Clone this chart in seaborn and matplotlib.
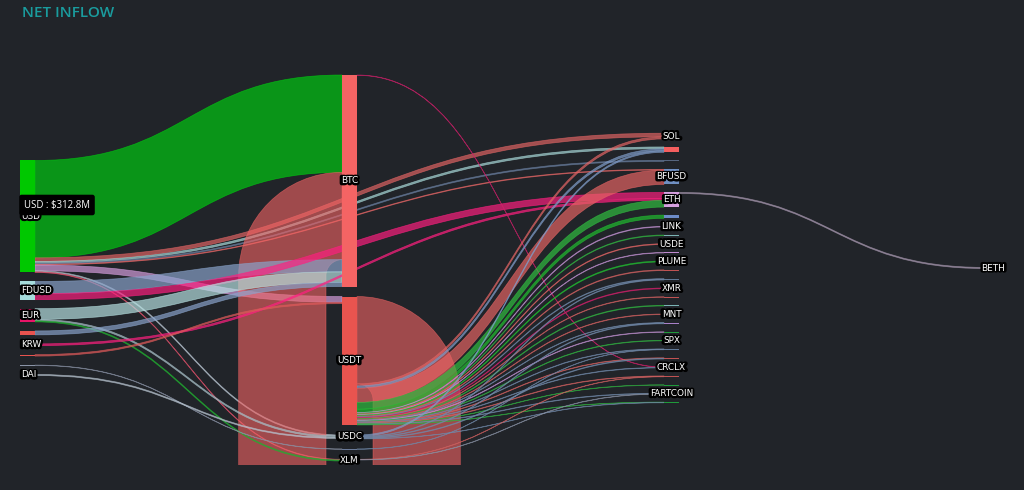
import numpy as np
import seaborn as sns
import matplotlib.pyplot as plt
from matplotlib.path import Path
from matplotlib.patches import PathPatch, Rectangle
import matplotlib.patheffects as pe

# ---- data ($M) ----
# names starting with "_" are nodes that carry no visible label
nodes = ["USD", "FDUSD", "EUR", "_f1", "KRW", "_f2", "_f3", "DAI",
         "BTC", "USDT", "USDC", "_m1", "XLM",
         "SOL", "_r1", "_r2", "BFUSD", "ETH", "_r3", "LINK", "_r4", "USDE", "_r5",
         "PLUME", "_r6", "_r7", "XMR", "_r8", "_r9", "MNT", "_r10", "_r11", "SPX",
         "_r12", "_r13", "CRCLX", "_r14", "_r15", "FARTCOIN", "_r16",
         "BETH"]
node_col = [0] * 8 + [1] * 5 + [2] * 27 + [3]
node_color = ["#00c800", "#a6dcdc", "#e81468", "#e8534f", "#c8145a", "#e8534f", "#8a93a6", "#8a93a6",
              "#f46464", "#e9544f", "#3daa48", "#6a7a99", "#8a93a6",
              "#3aa84a", "#f45f5f", "#56657e", "#6f8fc2", "#d6a0e0", "#6c8cc8", "#8a93a6",
              "#7ab4b4", "#8a93a6", "#c08ad0", "#3aa84a", "#c05252", "#5f7896", "#c2185b",
              "#c05252", "#7ab4b4", "#8a93a6", "#a880c8", "#1f9a3a", "#8a93a6", "#5f7896",
              "#c05252", "#8a93a6", "#c05252", "#1f9a3a", "#8a93a6", "#1f9a3a",
              "#8a93a6"]

src = ["USD", "USD", "USD", "USD", "USD", "USD", "USD", "USD",
       "USDT",
       "FDUSD", "FDUSD",
       "EUR", "EUR", "EUR",
       "_f1", "KRW", "_f2", "_f3", "DAI",
       "BTC",
       "USDT", "USDT", "USDT", "USDT", "USDT", "USDT", "USDT", "USDT", "USDT",
       "USDT", "USDT", "USDT", "USDT", "USDT", "USDT", "USDT", "USDT", "USDT",
       "USDT", "USDT", "USDT", "USDT", "USDT", "USDT", "USDT", "USDT",
       "USDC", "USDC", "USDC", "USDC", "USDC",
       "_m1", "XLM", "XLM",
       "ETH"]
tgt = ["BTC", "SOL", "_r1", "_r2", "BFUSD", "USDT", "USDC", "XLM",
       "BTC",
       "BTC", "ETH",
       "BTC", "USDC", "XLM",
       "BTC", "ETH", "USDT", "_m1", "USDC",
       "CRCLX",
       "SOL", "_r1", "BFUSD", "ETH", "_r3", "LINK", "_r4", "USDE", "_r5",
       "PLUME", "_r6", "_r7", "XMR", "_r8", "_r9", "MNT", "_r10", "_r11",
       "SPX", "_r12", "_r13", "CRCLX", "_r14", "_r15", "FARTCOIN", "_r16",
       "_r1", "_r7", "_r10", "_r13", "_r16",
       "_r12", "_r14", "FARTCOIN",
       "BETH"]
val = [272, 10, 5, 3, 2, 16, 3, 1.8,
       244,
       34, 17,
       30, 4, 3,
       11, 5, 4, 1, 3,
       1,
       6, 6, 40, 19, 9, 2, 2, 2, 1.5,
       2.5, 2, 2, 2, 1.5, 2, 1.5, 1.5, 1.5,
       1.5, 1.5, 1.5, 1.5, 1.5, 1, 1.5, 1,
       4, 2, 2, 2, 1,
       1, 1, 1,
       3]
link_color = ["#00cc10", "#e06464", "#a8d8d8", "#6a7fa0", "#e06464", "#d8a0e0", "#b8c4d0", "#e0506a",
              "#f46464",
              "#8aa4cc", "#ff1f80",
              "#b8e4e4", "#a8c0c8", "#20b030",
              "#8aa4cc", "#ff2080", "#e05a5a", "#8a93a6", "#b8c4d0",
              "#d0206a",
              "#e06464", "#7f9cc8", "#e86464", "#30c040", "#20c030", "#c090d0", "#30b040",
              "#e06464", "#c090d0",
              "#20c030", "#d06060", "#7088a8", "#d0206a", "#d06060", "#30b040", "#d06060",
              "#7088a8", "#c090d0",
              "#30b040", "#7088a8", "#d06060", "#7088a8", "#d06060", "#30b040", "#7088a8",
              "#30b040",
              "#7f9cc8", "#7088a8", "#7088a8", "#7088a8", "#7088a8",
              "#7088a8", "#d06060", "#8a93a6",
              "#a898b0"]

# ---- style ----
bg = "#212429"
sns.set_theme(style="dark", rc={"figure.facecolor": bg, "axes.facecolor": bg})
W, H = 1024, 490
node_w = 15
x_first, col_step = 20, 322
span_top, span_bot = 72, 458
col_pad = [9, 10, 8, 10]
y_center = 268
clip_bottom = 465
loop_r = 16

idx = {n: i for i, n in enumerate(nodes)}
n_nodes = len(nodes)
s_idx = np.array([idx[s] for s in src])
t_idx = np.array([idx[t] for t in tgt])
v = np.array(val, dtype=float)
node_in = np.bincount(t_idx, weights=v, minlength=n_nodes)
node_out = np.bincount(s_idx, weights=v, minlength=n_nodes)
node_val = np.maximum(node_in, node_out)
col = np.array(node_col)
n_cols = col.max() + 1

# one vertical scale for all columns, set by the fullest column
ky = min((span_bot - span_top - (np.sum(col == c) - 1) * col_pad[c]) / node_val[col == c].sum()
         for c in range(n_cols))
node_x = x_first + col * col_step
node_y = np.zeros(n_nodes)
node_h = node_val * ky
for c in range(n_cols):
    members = np.where(col == c)[0]
    total = node_h[members].sum() + (len(members) - 1) * col_pad[c]
    y = y_center - total / 2
    for m in members:
        node_y[m] = y
        y += node_h[m] + col_pad[c]

fig = plt.figure(figsize=(W / 100, H / 100), dpi=100)
ax = fig.add_axes([0, 0, 1, 1])
ax.set_xlim(0, W)
ax.set_ylim(H, 0)
ax.set_axis_off()

C4, LT = Path.CURVE4, Path.LINETO
k = 0.5523
out_off = node_y.copy()
in_off = node_y.copy()
clip = Rectangle((0, 0), W, clip_bottom, transform=ax.transData)
for s, t, value, colr in zip(s_idx, t_idx, v, link_color):
    h = value * ky
    ys, yt = out_off[s], in_off[t]
    out_off[s] += h
    in_off[t] += h
    x0 = node_x[s] + node_w
    x1 = node_x[t]
    if col[t] > col[s]:
        xm = (x0 + x1) / 2
        verts = [(x0, ys), (xm, ys), (xm, yt), (x1, yt), (x1, yt + h),
                 (xm, yt + h), (xm, ys + h), (x0, ys + h), (x0, ys)]
        codes = [Path.MOVETO, C4, C4, C4, LT, C4, C4, C4, Path.CLOSEPOLY]
        alpha = 0.68
    else:
        # circular link: loops out below the nodes and comes back in
        r, R = loop_r, loop_r + h
        cr, cl = ys + h + r, yt + h + r
        yb = clip_bottom + 200
        verts = [(x0, ys),
                 (x0 + k * R, ys), (x0 + R, cr - k * R), (x0 + R, cr),
                 (x0 + R, yb), (x1 - R, yb), (x1 - R, cl),
                 (x1 - R, cl - k * R), (x1 - k * R, yt), (x1, yt),
                 (x1, yt + h),
                 (x1 - k * r, yt + h), (x1 - r, cl - k * r), (x1 - r, cl),
                 (x1 - r, yb - h), (x0 + r, yb - h), (x0 + r, cr),
                 (x0 + r, cr - k * r), (x0 + k * r, ys + h), (x0, ys + h),
                 (x0, ys)]
        codes = [Path.MOVETO, C4, C4, C4, LT, LT, LT, C4, C4, C4, LT,
                 C4, C4, C4, LT, LT, LT, C4, C4, C4, Path.CLOSEPOLY]
        alpha = 0.6
    patch = PathPatch(Path(verts, codes), fc=colr, ec=colr, lw=0.5, alpha=alpha, zorder=1)
    ax.add_patch(patch)
    patch.set_clip_path(clip)

for i, name in enumerate(nodes):
    ax.add_patch(Rectangle((node_x[i], node_y[i]), node_w, max(node_h[i], 0.8),
                           fc=node_color[i], ec="none", zorder=3))

# labels: dark outline underneath, plain white text on top
outline = [pe.Stroke(linewidth=3, foreground="black")]
for i, name in enumerate(nodes):
    if name.startswith("_"):
        continue
    cy = node_y[i] + node_h[i] / 2
    if col[i] == 0:
        tx, ha = node_x[i] + 1, "left"
    else:
        tx, ha = node_x[i] + node_w / 2, "center"
    under = ax.text(tx, cy, name, color="black", fontsize=6.4, ha=ha, va="center", zorder=5)
    under.set_path_effects(outline)
    ax.text(tx, cy, name, color="white", fontsize=6.4, ha=ha, va="center", zorder=6)

ax.text(22, 13, "NET INFLOW", color="#1a9c9e", fontsize=11, fontweight="semibold",
        family="Open Sans", va="center", ha="left")

hover = idx["USD"]
ax.text(24, 205, f"{nodes[hover]} : ${node_val[hover]:.1f}M", color="white", fontsize=6.9,
        family="Open Sans", va="center", ha="left", zorder=10,
        bbox=dict(boxstyle="round,pad=0.5,rounding_size=0.25", fc="black", ec="none"))

fig.savefig("out.png", dpi=100, facecolor=bg)
